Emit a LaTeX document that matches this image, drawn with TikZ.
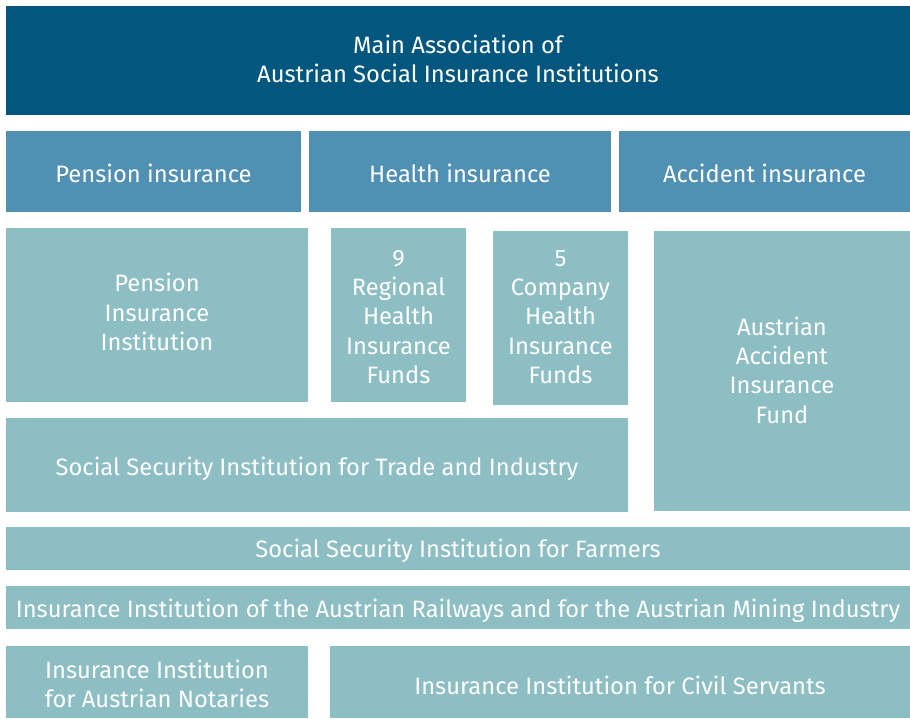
\documentclass[tikz,border=0pt]{standalone}
\usepackage{fontspec}
\setmainfont{Fira Sans}
\definecolor{cdark}{HTML}{03577F}
\definecolor{cmed}{HTML}{5090B3}
\definecolor{cteal}{HTML}{8CBEC3}
\newcommand{\bx}[8]{\node[box, fill=#6, minimum width={(#4-#2)*0.75pt}, minimum height={(#5-#3)*0.75pt}, label={[boxtext, yshift={-(#8)*0.75pt}]center:{#7}}] (#1) at ({(#2+#4)/2},{(#3+#5)/2}) {};}
\tikzset{box/.style={draw=none, inner sep=0pt, outer sep=0pt},
  boxtext/.style={inner sep=0pt, text=white, align=center, font=\fontsize{17.8pt}{22pt}\selectfont}}
\begin{document}
\begin{tikzpicture}[x=0.75pt,y=-0.75pt]
\useasboundingbox[fill=white] (0,0) rectangle (910,718);
\bx{main}{6}{6}{910}{115}{cdark}{Main Association of\\Austrian Social Insurance Institutions}{-1.5}
\bx{pen}{6}{131}{301}{212}{cmed}{Pension insurance}{2}
\bx{hea}{309}{131}{611}{212}{cmed}{Health insurance}{2}
\bx{acc}{619}{131}{910}{212}{cmed}{Accident insurance}{2}
\bx{pii}{6}{228}{308}{402}{cteal}{Pension\\Insurance\\Institution}{-3}
\bx{reg}{331}{228}{466}{402}{cteal}{9\\Regional\\Health\\Insurance\\Funds}{2}
\bx{com}{493}{231}{628}{405}{cteal}{5\\Company\\Health\\Insurance\\Funds}{-1}
\bx{auva}{654}{231}{910}{511}{cteal}{Austrian\\Accident\\Insurance\\Fund}{-1}
\bx{trade}{6}{418}{628}{512}{cteal}{Social Security Institution for Trade and Industry}{4}
\bx{farm}{6}{527}{910}{570}{cteal}{Social Security Institution for Farmers}{2}
\bx{rail}{6}{586}{910}{629}{cteal}{Insurance Institution of the Austrian Railways and for the Austrian Mining Industry}{3}
\bx{nota}{6}{646}{308}{718}{cteal}{Insurance Institution\\for Austrian Notaries}{2}
\bx{civ}{330}{646}{910}{718}{cteal}{Insurance Institution for Civil Servants}{3}
\end{tikzpicture}
\end{document}
